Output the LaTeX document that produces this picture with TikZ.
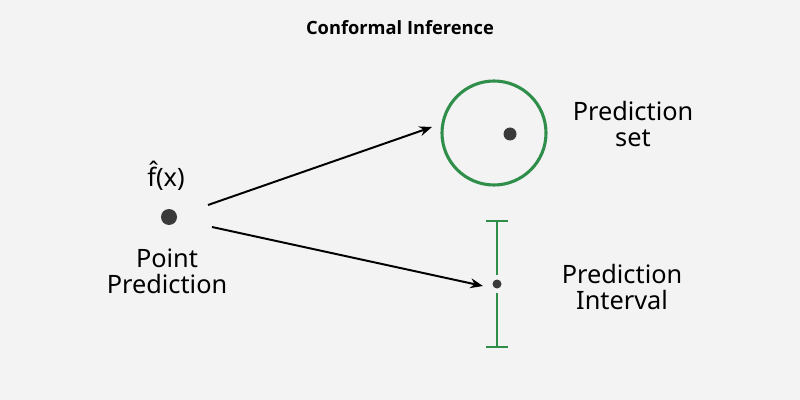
\documentclass[tikz,border=0pt]{standalone}
\usepackage{fontspec}
\setmainfont{Noto Sans}
\newfontfamily\titlefont{Open Sans}
\usetikzlibrary{arrows.meta}
\definecolor{bg}{HTML}{F3F3F3}
\definecolor{grn}{HTML}{2F8F4A}
\definecolor{dotc}{HTML}{3A3A3A}
\begin{document}
\begin{tikzpicture}[x=0.025cm,y=-0.025cm,
  lbl/.style={align=center,font=\fontsize{18}{18.6}\selectfont,inner sep=0pt},
  dotn/.style={circle,fill=dotc,inner sep=0pt},
  arr/.style={-{Stealth[length=9pt,width=7pt]},line width=1.4pt,black},
  grnline/.style={draw=grn,line width=1.5pt}]
\fill[bg] (0,0) rectangle (800,400);
\useasboundingbox (0,0) rectangle (800,400);
\node[font=\titlefont\bfseries\fontsize{13}{15}\selectfont] (title) at (400,28) {Conformal Inference};
% point prediction
\node[dotn,minimum size=16*0.025cm] (p) at (169,217) {};
\node[lbl] (fx) at (166,176) {\^{f}(x)};
\node[lbl] (pp) at (167,271) {Point\\Prediction};
% prediction set
\node[circle,draw=grn,line width=2.2pt,minimum size=104*0.025cm,inner sep=0pt] (setc) at (494,133) {};
\node[dotn,minimum size=13*0.025cm] (sd) at (510,134) {};
\node[lbl] (ps) at (633,124) {Prediction\\set};
% prediction interval
\node[dotn,minimum size=9*0.025cm] (id) at (497,284) {};
\coordinate (itop) at (497,221);
\coordinate (ibot) at (497,347);
\draw[grnline] (itop) -- (497,275);
\draw[grnline] (497,293) -- (ibot);
\draw[grnline] ([xshift=-11*0.025cm]itop) -- ([xshift=11*0.025cm]itop);
\draw[grnline] ([xshift=-11*0.025cm]ibot) -- ([xshift=11*0.025cm]ibot);
\node[lbl] (pi) at (622,287) {Prediction\\Interval};
% arrows
\coordinate (a1s) at (208,205);
\coordinate (a1e) at (432,127);
\coordinate (a2s) at (212,227);
\coordinate (a2e) at (483,286);
\draw[arr] (a1s) -- (a1e);
\draw[arr] (a2s) -- (a2e);
\end{tikzpicture}
\end{document}
